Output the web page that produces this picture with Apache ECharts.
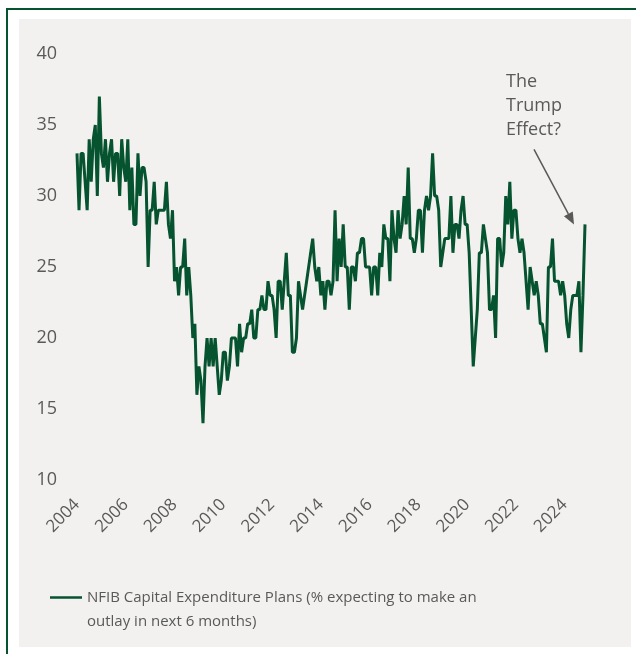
<!DOCTYPE html>
<html><head><meta charset="utf-8">
<script src="https://cdn.jsdelivr.net/npm/echarts@6/dist/echarts.min.js"></script>
<style>html,body{margin:0;padding:0;background:#fff;}#c{width:636px;height:654px;}</style>
</head><body><div id="c"></div>
<script>
const startYear = 2004;
// NFIB Capital Expenditure Plans, monthly from Jan 2004
const capexPlans = [
  33,29,33,33,31,29,34,31,34,35,30,37,
  33,32,34,31,33,34,31,33,33,30,34,32,
  31,34,29,32,28,28,33,30,32,32,31,25,
  29,29,31,28,29,29,29,29,31,28,27,29,
  24,25,23,25,25,27,23,25,23,20,21,16,
  18,17,14,18,20,18,20,18,20,18,16,17,
  19,19,17,18,20,20,20,18,21,19,20,20,
  21,21,22,20,20,22,22,23,22,22,24,23,
  23,22,20,24,24,22,24,26,23,23,19,19,
  20,24,23,22,23,24,25,26,27,25,24,25,
  23,24,22,24,24,23,24,29,24,27,25,28,
  25,25,22,25,25,24,26,26,27,27,25,25,
  25,23,25,25,23,26,25,28,27,27,24,29,
  27,26,29,27,28,30,28,32,27,27,26,27,
  29,29,26,29,30,29,30,33,30,30,29,25,
  26,27,27,27,30,26,28,28,27,29,30,28,
  28,26,22,18,20,22,26,26,28,27,26,22,
  22,23,20,27,27,25,26,30,28,31,27,29,
  29,27,26,27,26,24,22,25,24,23,24,23,
  21,21,20,19,25,25,27,24,24,24,23,24,
  23,21,20,22,23,23,23,24,19,23,28
];
const yearTickLabels = ['2004','2006','2008','2010','2012','2014','2016','2018','2020','2022','2024'];
const yTickValues = [10,15,20,25,30,35,40];
const seriesName = 'NFIB Capital Expenditure Plans (% expecting to make an outlay in next 6 months)';
const legendLines = ['NFIB Capital Expenditure Plans (% expecting to make an', 'outlay in next 6 months)'];
const annotationLines = ['The', 'Trump', 'Effect?'];

const months = capexPlans.map((_, i) => (startYear + Math.floor(i / 12)) + '-' + String(i % 12 + 1).padStart(2, '0'));

const GREEN = '#05532f';
const GREY = '#595959';
const FONT = 'Open Sans';

const chart = echarts.init(document.getElementById('c'), null, {renderer: 'canvas'});
const option = {
  backgroundColor: '#ffffff',
  animation: false,
  textStyle: {fontFamily: FONT},
  grid: {left: 77, right: 51, top: 54, bottom: 174},
  xAxis: {
    type: 'category',
    data: months,
    boundaryGap: false,
    axisLine: {show: false},
    axisTick: {show: false},
    splitLine: {show: false},
    axisLabel: {
      interval: (idx, val) => yearTickLabels.indexOf(val.slice(0, 4)) >= 0 && val.slice(5) === '01',
      formatter: (val) => val.slice(0, 4),
      rotate: 45,
      margin: 22,
      fontSize: 17,
      color: GREY,
      fontFamily: FONT
    }
  },
  yAxis: {
    type: 'value',
    min: yTickValues[0],
    max: yTickValues[yTickValues.length - 1],
    interval: 5,
    axisLine: {show: false},
    axisTick: {show: false},
    splitLine: {show: false},
    axisLabel: {margin: 20, fontSize: 18, color: GREY, fontFamily: FONT}
  },
  legend: {
    left: 50,
    top: 566,
    padding: 0,
    icon: 'rect',
    itemWidth: 32,
    itemHeight: 2.5,
    data: [seriesName],
    formatter: () => '{p| }\n{t|' + legendLines[0] + '}\n{t|' + legendLines[1] + '}',
    textStyle: {
      fontSize: 15, color: GREY, fontFamily: FONT,
      rich: {
        p: {fontSize: 15, lineHeight: 24, color: GREY, fontFamily: FONT},
        t: {fontSize: 15, lineHeight: 24, color: GREY, fontFamily: FONT}
      }
    }
  },
  graphic: [
    {id: 'panel', type: 'rect', z: -10, silent: true, shape: {x: 19, y: 19, width: 612, height: 628}, style: {fill: '#f2f1ef'}},
    {id: 'borderTop', type: 'line', z: -9, silent: true, shape: {x1: 6, y1: 9, x2: 636, y2: 9}, style: {stroke: GREEN, lineWidth: 2}},
    {id: 'borderLeft', type: 'line', z: -9, silent: true, shape: {x1: 7, y1: 8, x2: 7, y2: 654}, style: {stroke: GREEN, lineWidth: 2}},
    {id: 'note', type: 'text', left: 506, top: 70, style: {text: annotationLines.join('\n'), fontSize: 18, lineHeight: 24, fill: GREY, fontFamily: FONT}}
  ],
  series: [{
    name: seriesName,
    type: 'line',
    data: capexPlans,
    showSymbol: false,
    symbol: 'none',
    lineStyle: {color: GREEN, width: 3},
    itemStyle: {color: GREEN},
    z: 3
  }]
};
chart.setOption(option);

// Arrow pointing at the latest reading
const lastIdx = capexPlans.length - 1;
const p = chart.convertToPixel({xAxisIndex: 0, yAxisIndex: 0}, [months[lastIdx], capexPlans[lastIdx]]);
const tip = [p[0] - 11, p[1]];
const start = [p[0] - 51, p[1] - 75];
const dx = tip[0] - start[0], dy = tip[1] - start[1];
const len = Math.sqrt(dx * dx + dy * dy);
const ux = dx / len, uy = dy / len;
const headLen = 12, headHalf = 5;
const bx = tip[0] - ux * headLen, by = tip[1] - uy * headLen;
chart.setOption({
  graphic: [
    {id: 'arrowLine', type: 'line', silent: true, shape: {x1: start[0], y1: start[1], x2: bx, y2: by}, style: {stroke: GREY, lineWidth: 1.5}},
    {id: 'arrowHead', type: 'polygon', silent: true, shape: {points: [tip, [bx - uy * headHalf, by + ux * headHalf], [bx + uy * headHalf, by - ux * headHalf]]}, style: {fill: GREY}}
  ]
});
</script>
</body></html>
